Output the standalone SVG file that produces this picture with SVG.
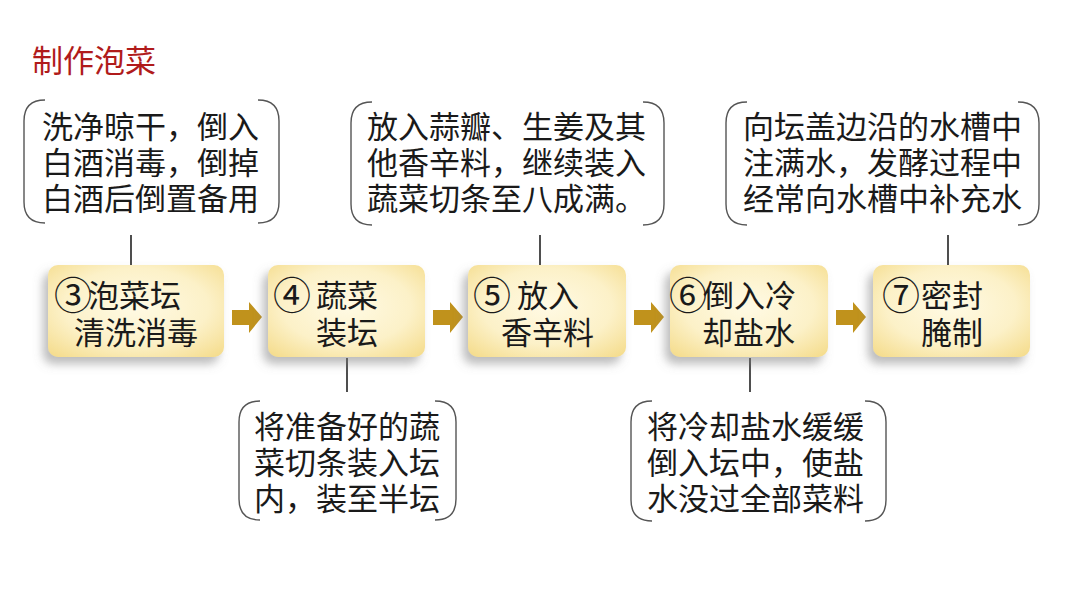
<svg xmlns="http://www.w3.org/2000/svg" width="1080" height="608" viewBox="0 0 1080 608">
<defs>
<radialGradient id="g" cx="0.5" cy="0.45" r="0.75">
<stop offset="0" stop-color="#fffae4"/>
<stop offset="0.55" stop-color="#fcf1c8"/>
<stop offset="1" stop-color="#f4da86"/>
</radialGradient>
<filter id="sh" x="-20%" y="-20%" width="140%" height="150%">
<feDropShadow dx="-5" dy="7" stdDeviation="5" flood-color="#7a7a7a" flood-opacity="0.5"/>
</filter>
<path id="arrow" d="M0,-7 L17,-7 L17,-15 L30,0 L17,16 L17,8 L0,8 Z"/>
</defs>
<style>
text{font-family:"Noto Sans CJK SC","Noto Sans",sans-serif;fill:#1a1a1a}
.t{font-size:31px}
.c{font-size:38px}
.box{fill:url(#g);filter:url(#sh)}
.br{fill:none;stroke:#555;stroke-width:1.4}
.ln{stroke:#222;stroke-width:1.6}
.ar{fill:#c0921c}
.title{font-size:31px;fill:#b01b1b}
</style>
<rect width="1080" height="608" fill="#ffffff"/>
<text class="title" x="32" y="72">制作泡菜</text>

<g id="connectors">
<line class="ln" x1="131" y1="235" x2="131" y2="265"/>
<line class="ln" x1="540" y1="235" x2="540" y2="265"/>
<line class="ln" x1="948" y1="235" x2="948" y2="265"/>
<line class="ln" x1="347" y1="358" x2="347" y2="392"/>
<line class="ln" x1="750" y1="358" x2="750" y2="392"/>
<use href="#arrow" class="ar" x="232" y="317"/>
<use href="#arrow" class="ar" x="433" y="317"/>
<use href="#arrow" class="ar" x="634" y="317"/>
<use href="#arrow" class="ar" x="836" y="317"/>
</g>

<g id="step3">
<rect class="box" x="48" y="265" width="176" height="92" rx="10"/>
<text class="t"><tspan class="c" x="54" y="309">③</tspan><tspan x="88" y="307">泡菜坛</tspan><tspan x="74" y="344">清洗消毒</tspan></text>
</g>
<g id="step4">
<rect class="box" x="268" y="265" width="157" height="92" rx="10"/>
<text class="t"><tspan class="c" x="273" y="309">④</tspan><tspan x="316" y="307">蔬菜</tspan><tspan x="316" y="344">装坛</tspan></text>
</g>
<g id="step5">
<rect class="box" x="468" y="265" width="158" height="92" rx="10"/>
<text class="t"><tspan class="c" x="473" y="309">⑤</tspan><tspan x="517" y="307">放入</tspan><tspan x="501" y="344">香辛料</tspan></text>
</g>
<g id="step6">
<rect class="box" x="670" y="265" width="158" height="92" rx="10"/>
<text class="t"><tspan class="c" x="669" y="309">⑥</tspan><tspan x="703" y="307">倒入冷</tspan><tspan x="702" y="344">却盐水</tspan></text>
</g>
<g id="step7">
<rect class="box" x="873" y="265" width="157" height="92" rx="10"/>
<text class="t"><tspan class="c" x="882" y="309">⑦</tspan><tspan x="921" y="307">密封</tspan><tspan x="921" y="344">腌制</tspan></text>
</g>

<g id="note3">
<path class="br" d="M45,100 Q24,100 24,121 L24,202 Q24,223 45,223"/>
<path class="br" d="M258,100 Q279,100 279,121 L279,202 Q279,223 258,223"/>
<text class="t"><tspan x="42" y="138">洗净晾干，倒入</tspan><tspan x="42" y="174">白酒消毒，倒掉</tspan><tspan x="42" y="210">白酒后倒置备用</tspan></text>
</g>
<g id="note5">
<path class="br" d="M372,102 Q351,102 351,123 L351,204 Q351,225 372,225"/>
<path class="br" d="M643,102 Q664,102 664,123 L664,204 Q664,225 643,225"/>
<text class="t"><tspan x="367" y="138">放入蒜瓣、生姜及其</tspan><tspan x="367" y="174">他香辛料，继续装入</tspan><tspan x="367" y="210">蔬菜切条至八成满。</tspan></text>
</g>
<g id="note7">
<path class="br" d="M747,102 Q726,102 726,123 L726,204 Q726,225 747,225"/>
<path class="br" d="M1018,102 Q1039,102 1039,123 L1039,204 Q1039,225 1018,225"/>
<text class="t"><tspan x="743" y="138">向坛盖边沿的水槽中</tspan><tspan x="743" y="174">注满水，发酵过程中</tspan><tspan x="743" y="210">经常向水槽中补充水</tspan></text>
</g>
<g id="note4">
<path class="br" d="M260,401 Q239,401 239,422 L239,499 Q239,520 260,520"/>
<path class="br" d="M435,401 Q456,401 456,422 L456,499 Q456,520 435,520"/>
<text class="t"><tspan x="254" y="438">将准备好的蔬</tspan><tspan x="254" y="474">菜切条装入坛</tspan><tspan x="254" y="510">内，装至半坛</tspan></text>
</g>
<g id="note6">
<path class="br" d="M652,401 Q631,401 631,422 L631,500 Q631,521 652,521"/>
<path class="br" d="M865,401 Q886,401 886,422 L886,500 Q886,521 865,521"/>
<text class="t"><tspan x="647" y="438">将冷却盐水缓缓</tspan><tspan x="647" y="474">倒入坛中，使盐</tspan><tspan x="647" y="510">水没过全部菜料</tspan></text>
</g>
</svg>
